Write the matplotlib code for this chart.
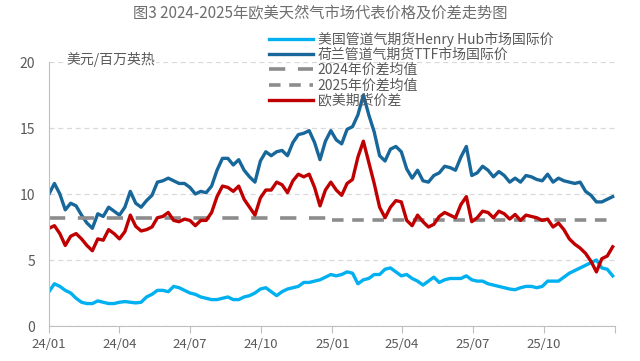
import numpy as np
import pandas as pd
import matplotlib
matplotlib.use("Agg")
import matplotlib.pyplot as plt
import matplotlib.dates as mdates

plt.rcParams['font.family'] = ['Noto Sans CJK SC', 'DejaVu Sans']

# weekly readings, 2024-01-01 .. 2025-12-29
dates = pd.date_range('2024-01-01', periods=105, freq='7D')

hh = [2.6, 3.2, 3.0, 2.7, 2.5, 2.1, 1.8, 1.7, 1.7, 1.9,
      1.8, 1.7, 1.7, 1.8, 1.85, 1.8, 1.75, 1.8, 2.2, 2.4,
      2.7, 2.7, 2.6, 3.0, 2.9, 2.7, 2.5, 2.4, 2.2, 2.1,
      2.0, 2.0, 2.1, 2.2, 2.0, 2.0, 2.2, 2.3, 2.5, 2.8,
      2.9, 2.6, 2.3, 2.6, 2.8, 2.9, 3.0, 3.3, 3.3, 3.4,
      3.5, 3.7, 3.9, 3.8, 3.9, 4.1, 4.0, 3.2, 3.5, 3.6,
      3.9, 3.9, 4.3, 4.4, 4.1, 3.8, 3.9, 3.6, 3.4, 3.1,
      3.4, 3.7, 3.3, 3.5, 3.6, 3.6, 3.6, 3.8, 3.5, 3.4,
      3.4, 3.2, 3.1, 3.0, 2.9, 2.8, 2.75, 2.9, 3.0, 3.0,
      2.9, 3.0, 3.4, 3.4, 3.4, 3.7, 4.0, 4.2, 4.4, 4.6,
      4.8, 5.0, 4.4, 4.3, 3.8]

ttf = [10.0, 10.8, 10.0, 8.8, 9.3, 9.1, 8.4, 7.8, 7.4, 8.5,
       8.3, 9.0, 8.7, 8.4, 9.0, 10.2, 9.3, 9.0, 9.5, 9.9,
       10.9, 11.0, 11.2, 11.0, 10.8, 10.8, 10.5, 10.0, 10.2, 10.1,
       10.6, 11.8, 12.7, 12.7, 12.2, 12.6, 11.8, 11.3, 10.9, 12.5,
       13.2, 12.9, 13.2, 13.3, 12.9, 13.9, 14.5, 14.6, 14.8, 13.9,
       12.6, 14.0, 14.8, 14.1, 13.8, 14.9, 15.1, 16.0, 17.5, 16.0,
       14.7, 12.9, 12.5, 13.4, 13.6, 13.2, 11.9, 11.2, 11.8, 11.0,
       10.9, 11.4, 11.6, 12.1, 12.0, 11.8, 12.8, 13.6, 11.4, 11.6,
       12.1, 11.8, 11.3, 11.7, 11.4, 10.9, 11.2, 10.9, 11.4, 11.3,
       11.1, 11.0, 11.5, 10.9, 11.2, 11.0, 10.9, 10.8, 10.9, 10.2,
       9.9, 9.4, 9.4, 9.6, 9.8]

spread = [7.4, 7.6, 7.0, 6.1, 6.8, 7.0, 6.6, 6.1, 5.7, 6.6,
          6.5, 7.3, 7.0, 6.6, 7.15, 8.4, 7.55, 7.2, 7.3, 7.5,
          8.2, 8.3, 8.6, 8.0, 7.9, 8.1, 8.0, 7.6, 8.0, 8.0,
          8.6, 9.8, 10.6, 10.5, 10.2, 10.6, 9.6, 9.0, 8.4, 9.7,
          10.3, 10.3, 10.9, 10.7, 10.1, 11.0, 11.5, 11.3, 11.5, 10.5,
          9.1, 10.3, 10.9, 10.3, 9.9, 10.8, 11.1, 12.8, 14.0, 12.4,
          10.8, 9.0, 8.2, 9.0, 9.5, 9.4, 8.0, 7.6, 8.4, 7.9,
          7.5, 7.7, 8.3, 8.6, 8.4, 8.2, 9.2, 9.8, 7.9, 8.2,
          8.7, 8.6, 8.2, 8.7, 8.5, 8.1, 8.45, 8.0, 8.4, 8.3,
          8.2, 8.0, 8.1, 7.5, 7.8, 7.3, 6.6, 6.2, 5.9, 5.5,
          4.9, 4.1, 5.1, 5.3, 6.0]

avg_2024 = 8.2
avg_2025 = 8.0
span_2024 = ['2024-01-01', '2024-12-31']
span_2025 = ['2025-01-01', '2025-12-29']

labels = ['美国管道气期货Henry Hub市场国际价', '荷兰管道气期货TTF市场国际价',
          '2024年价差均值', '2025年价差均值', '欧美期货价差']

gray_txt = '#595959'

fig = plt.figure(figsize=(6.4, 3.61), dpi=100)
ax = fig.add_axes([49/640, 1-326/361, 566/640, 264/361])

ax.plot(dates, hh, color='#00B0F0', lw=2.4, label=labels[0])
ax.plot(dates, ttf, color='#18679A', lw=2.4, label=labels[1])
ax.plot(pd.to_datetime(span_2024), [avg_2024, avg_2024], color='#8C8C8C', lw=2.6,
        dashes=(4.5, 3.5), label=labels[2])
ax.plot(pd.to_datetime(span_2025), [avg_2025, avg_2025], color='#8C8C8C', lw=2.6,
        dashes=(3.2, 2.4), label=labels[3])
ax.plot(dates, spread, color='#C00000', lw=2.4, label=labels[4])

ax.set_ylim(0, 20)
ax.set_yticks([0, 5, 10, 15, 20])
ax.set_xlim(pd.Timestamp('2024-01-01'), pd.Timestamp('2026-01-01'))
ax.xaxis.set_major_locator(mdates.MonthLocator(bymonth=[1, 4, 7, 10]))
ax.xaxis.set_major_formatter(mdates.DateFormatter('%y/%m'))

ax.grid(axis='y', color='#D9D9D9', ls=(0, (4, 3)), lw=0.9)
ax.set_axisbelow(True)
for s in ['top', 'right']:
    ax.spines[s].set_visible(False)
for s in ['left', 'bottom']:
    ax.spines[s].set_color('#BFBFBF')
ax.tick_params(axis='y', length=0, labelsize=10, labelcolor=gray_txt, pad=10)
ax.tick_params(axis='x', length=5, color='#BFBFBF', labelsize=9.5,
               labelcolor=gray_txt, pad=4)
labs = ax.get_xticklabels()
ax.set_xticks(ax.get_xticks())
ax.set_xticklabels([t.get_text() for t in labs])
xl = ax.get_xticklabels()
if len(xl):
    xl[-1].set_visible(False)

ax.text(0.03, 1.01, '美元/百万英热', transform=ax.transAxes, fontsize=10,
        color=gray_txt, va='center', ha='left',
        bbox=dict(facecolor='white', edgecolor='none', pad=1))

fig.suptitle('图3 2024-2025年欧美天然气市场代表价格及价差走势图', y=0.985,
             fontsize=11, color='#6E6E6E')

fig.legend(loc='upper left', bbox_to_anchor=(262/640, 1-25/361), frameon=False,
           fontsize=10, labelcolor=gray_txt, handlelength=3.2, handletextpad=0.3,
           labelspacing=0.08, borderpad=0)

fig.savefig('out.png', dpi=100)
